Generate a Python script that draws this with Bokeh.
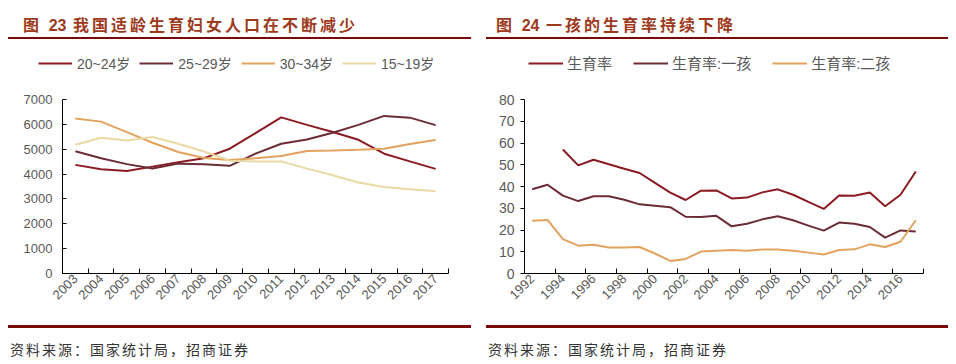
import math
from bokeh.plotting import figure
from bokeh.models import Range1d, FixedTicker, Legend, LegendItem, Div
from bokeh.layouts import row, column
from bokeh.embed import file_html
from bokeh.resources import INLINE

# ---------------- data ----------------
years_a = ["2003", "2004", "2005", "2006", "2007", "2008", "2009", "2010",
           "2011", "2012", "2013", "2014", "2015", "2016", "2017"]
age_20_24 = [4370, 4190, 4120, 4300, 4480, 4640, 5020, 5650, 6280, 5980, 5690, 5380, 4820, 4510, 4210]
age_25_29 = [4920, 4640, 4400, 4220, 4420, 4400, 4330, 4820, 5220, 5390, 5660, 5980, 6340, 6270, 5970]
age_30_34 = [6240, 6110, 5690, 5260, 4890, 4650, 4570, 4640, 4730, 4930, 4950, 4980, 5020, 5210, 5370]
age_15_19 = [5180, 5460, 5350, 5490, 5220, 4910, 4540, 4510, 4510, 4220, 3950, 3660, 3480, 3390, 3310]
series_a = [("20~24岁", age_20_24), ("25~29岁", age_25_29), ("30~34岁", age_30_34), ("15~19岁", age_15_19)]

years_b = [str(y) for y in range(1992, 2018)]
nan = float("nan")
rate_all = [nan, nan, 57.0, 49.7, 52.3, 50.2, 48.2, 46.2, 41.7, 37.2, 33.8, 38.1, 38.2,
            34.5, 34.9, 37.3, 38.7, 36.2, 32.9, 29.7, 35.9, 35.7, 37.2, 30.9, 36.2, 46.9]
rate_first = [38.7, 40.8, 35.8, 33.3, 35.5, 35.5, 33.9, 31.8, 31.2, 30.5, 26.1, 26.0, 26.5,
              21.7, 22.9, 24.9, 26.3, 24.5, 22.0, 19.7, 23.4, 22.9, 21.4, 16.5, 19.8, 19.3]
rate_second = [24.3, 24.6, 15.8, 12.8, 13.2, 12.0, 12.0, 12.2, 9.2, 5.8, 6.7, 10.1, 10.5,
               10.8, 10.5, 11.0, 11.0, 10.5, 9.6, 8.7, 10.8, 11.1, 13.4, 12.2, 14.6, 24.5]
series_b = [("生育率", rate_all), ("生育率:一孩", rate_first), ("生育率:二孩", rate_second)]

ticks_a = [0, 1000, 2000, 3000, 4000, 5000, 6000, 7000]
ticks_b = [0, 10, 20, 30, 40, 50, 60, 70, 80]

title_a = "我国适龄生育妇女人口在不断减少"
title_b = "一孩的生育率持续下降"
source_text = "资料来源：国家统计局，招商证券"

# ---------------- styles / layout (pixels) ----------------
colors_a = ["#8B1A22", "#6B2C36", "#E3A35F", "#EAD9A2"]
colors_b = ["#8B1A22", "#6B2C36", "#E3A35F"]
RULE = "#7A0A0A"
TITLE_C = "#9E3A1C"
GRAY = "#595959"
CJK = "Noto Sans CJK SC"
LAT = "Liberation Sans"

FIG_H = 286          # figure height (frame covers the whole figure)
AXIS_TOP = 60        # frame top -> top of the value axis
AXIS_BOTTOM = 52     # bottom of the value axis -> frame bottom


def title_div(num, text, width, pad_left):
    html = (f'<div style="box-sizing:border-box;width:{width}px;height:31px;padding-top:4px;'
            f'padding-left:{pad_left}px;line-height:24px;border-bottom:2px solid {RULE};'
            f'color:{TITLE_C};font-family:\'{CJK}\';font-size:16px;font-weight:bold;'
            f'letter-spacing:3px;white-space:nowrap;">'
            f'图 <span style="font-family:\'{LAT}\';letter-spacing:0px;">{num}</span>&nbsp;{text}</div>')
    return Div(text=html, width=width, height=31, margin=0)


def source_div(width):
    html = (f'<div style="box-sizing:border-box;width:{width}px;height:31px;'
            f'border-top:3px solid {RULE};padding-top:11px;padding-left:2px;line-height:20px;'
            f'color:#333333;font-family:\'{CJK}\';font-size:14px;letter-spacing:2px;white-space:nowrap;">'
            f'{source_text}</div>')
    return Div(text=html, width=width, height=31, margin=0)


def base_fig(width, nx, yend, ax_left, ax_right, ysize):
    # frame spans the whole figure; the plotted area is inset by the given pixel margins
    plot_w = width - ax_left - ax_right
    unit = plot_w / nx
    x0 = -0.5 - ax_left / unit
    x1 = nx - 0.5 + ax_right / unit
    plot_h = FIG_H - AXIS_TOP - AXIS_BOTTOM
    y0 = -yend * AXIS_BOTTOM / plot_h
    y1 = yend + yend * AXIS_TOP / plot_h
    p = figure(width=width, height=FIG_H, output_backend="svg", toolbar_location=None,
               x_range=Range1d(x0, x1), y_range=Range1d(y0, y1),
               min_border_left=0, min_border_right=0, min_border_top=0, min_border_bottom=0,
               margin=0)
    p.outline_line_color = None
    p.xgrid.grid_line_color = None
    p.ygrid.grid_line_color = None
    p.background_fill_color = "white"
    p.border_fill_color = "white"
    for ax in (p.xaxis[0], p.yaxis[0]):
        ax.axis_line_color = "black"
        ax.axis_line_width = 1
        ax.major_tick_line_color = "black"
        ax.minor_tick_line_color = "black"
        ax.major_label_text_color = GRAY
        ax.major_label_text_font = LAT
    p.xaxis[0].bounds = (-0.5, nx - 0.5)
    p.yaxis[0].bounds = (0, yend)
    p.yaxis[0].fixed_location = -0.5
    p.xaxis[0].fixed_location = 0
    p.yaxis[0].major_label_text_font_size = ysize
    p.xaxis[0].major_label_text_font_size = "13px"
    p.xaxis[0].major_label_orientation = math.pi / 4
    p.xaxis[0].major_tick_in = 0
    p.xaxis[0].major_tick_out = 0
    p.xaxis[0].minor_tick_in = 5
    p.xaxis[0].minor_tick_out = 0
    p.xaxis[0].major_label_standoff = 3
    p.yaxis[0].minor_tick_line_color = None
    return p


def make_legend(p, items, vx, spacing, standoff, gw, fsize):
    lg = Legend(items=items, orientation="horizontal", location=(vx, 252),
                padding=2, margin=0, spacing=spacing, label_standoff=standoff,
                glyph_width=gw, glyph_height=14, label_height=14,
                border_line_color=None, background_fill_alpha=0,
                label_text_font=f"{LAT}, {CJK}", label_text_font_size=fsize,
                label_text_color=GRAY)
    p.add_layout(lg)


# ---------------- left chart ----------------
pa = base_fig(463, len(years_a), ticks_a[-1], 54, 23, "13px")
xa = list(range(len(years_a)))
pa.xaxis[0].ticker = FixedTicker(ticks=xa, minor_ticks=[i - 0.5 for i in range(len(years_a) + 1)])
pa.xaxis[0].major_label_overrides = {i: y for i, y in zip(xa, years_a)}
pa.yaxis[0].ticker = FixedTicker(ticks=ticks_a)
pa.yaxis[0].major_tick_in = 4
pa.yaxis[0].major_tick_out = 0
pa.yaxis[0].major_label_standoff = 10
items_a = []
for (name, vals), c in zip(series_a, colors_a):
    r = pa.line(xa, vals, line_color=c, line_width=2)
    items_a.append(LegendItem(label=name, renderers=[r]))
make_legend(pa, items_a, 30, 9, 5, 34, "14px")

# ---------------- right chart ----------------
pb = base_fig(462, len(years_b), ticks_b[-1], 38, 25, "14px")
xb = list(range(len(years_b)))
pb.xaxis[0].ticker = FixedTicker(ticks=xb[::2], minor_ticks=[i + 1.5 for i in xb[::2]])
pb.xaxis[0].major_label_overrides = {i: years_b[i] for i in xb[::2]}
pb.yaxis[0].ticker = FixedTicker(ticks=ticks_b)
pb.yaxis[0].major_tick_in = 0
pb.yaxis[0].major_tick_out = 4
pb.yaxis[0].major_label_standoff = 6
items_b = []
for (name, vals), c in zip(series_b, colors_b):
    r = pb.line(xb, vals, line_color=c, line_width=2)
    items_b.append(LegendItem(label=name, renderers=[r]))
make_legend(pb, items_b, 42, 21, 4, 35, "15px")

left = column(title_div("23", title_a, 463, 15), pa, source_div(463), spacing=0, margin=0)
right = column(title_div("24", title_b, 462, 10), pb, source_div(462), spacing=0, margin=0)
layout = row(left, right, spacing=15, margin=(8, 0, 0, 8))

open("out.html", "w").write(file_html(layout, INLINE))
